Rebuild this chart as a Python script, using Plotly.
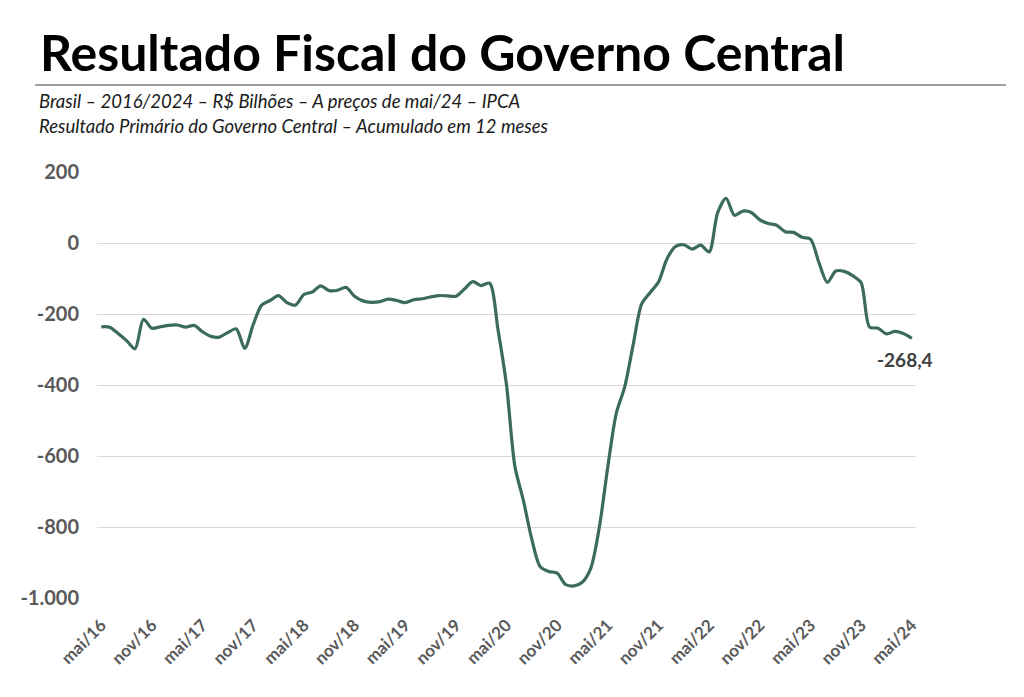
import plotly.graph_objects as go

# ---- data ----
month_index = list(range(97))  # mai/16 .. mai/24, monthly
values = [
    -236, -237, -255, -275, -298, -215, -240, -236, -232, -231,
    -237, -232, -250, -263, -265, -252, -242, -297, -230, -175,
    -162, -148, -168, -175, -145, -138, -121, -134, -133, -125,
    -150, -163, -167, -165, -158, -162, -168, -160, -157, -152,
    -148, -149, -150, -130, -109, -120, -113, -245, -400, -630,
    -725, -835, -912, -925, -930, -962, -966, -955, -915, -800,
    -630, -480, -405, -287, -172, -140, -110, -45, -10, -5,
    -17, -6, -25, 85, 126, 78, 90, 86, 65, 55,
    50, 32, 30, 16, 11, -55, -111, -79, -80, -92,
    -112, -237, -240, -256, -249, -255, -268.4,
]
tick_positions = [0, 6, 12, 18, 24, 30, 36, 42, 48, 54, 60, 66, 72, 78, 84, 90, 96]
tick_labels = ["mai/16", "nov/16", "mai/17", "nov/17", "mai/18", "nov/18", "mai/19",
               "nov/19", "mai/20", "nov/20", "mai/21", "nov/21", "mai/22", "nov/22",
               "mai/23", "nov/23", "mai/24"]
y_ticks = [200, 0, -200, -400, -600, -800, -1000]
y_tick_labels = ["200", "0", "-200", "-400", "-600", "-800", "-1.000"]

title = "Resultado Fiscal do Governo Central"
subtitle1 = "Brasil – 2016/2024 – R$ Bilhões – A preços de mai/24 – IPCA"
subtitle2 = "Resultado Primário do Governo Central – Acumulado em 12 meses"

# ---- layout geometry (pixels, in screenshot coordinates) ----
W, H = 1024, 697
OFF = 8  # page body margin
L, R, T, B = 97 - OFF, 916 - OFF, 172 - OFF, 598 - OFF
def px_x(p):
    return (p - OFF - L) / (R - L)
def px_y(p):
    return (B - (p - OFF)) / (B - T)

FONT = "Lato"
GRAY = "#595959"
LINE = "#3B6A5E"

fig = go.Figure()
fig.add_trace(go.Scatter(
    x=month_index, y=values, mode="lines",
    line=dict(color=LINE, width=3.2, shape="spline", smoothing=0.8),
    hoverinfo="skip", showlegend=False,
))

ymin, ymax = -1000, 200
fig.update_layout(
    width=W, height=H,
    margin=dict(l=L, r=W - R, t=T, b=H - B, pad=0),
    paper_bgcolor="white", plot_bgcolor="white",
    font=dict(family=FONT, color=GRAY),
    showlegend=False,
    xaxis=dict(
        range=[-0.5, 96.5], tickvals=tick_positions, ticktext=tick_labels,
        tickangle=-45, showgrid=False, zeroline=False, showline=False,
        ticks="", ticklabelstandoff=13,
        tickfont=dict(family=FONT, size=17, color=GRAY, weight="bold"),
    ),
    xaxis2=dict(
        overlaying="x", matches="x", anchor="free",
        position=(0 - ymin) / (ymax - ymin), side="bottom",
        tickvals=[p - 0.5 for p in tick_positions], showticklabels=False,
        ticks="outside", ticklen=5, tickwidth=1, tickcolor="#D9D9D9",
        showgrid=False, zeroline=False, showline=False,
    ),
    yaxis=dict(
        range=[ymin, ymax], tickvals=y_ticks, ticktext=y_tick_labels,
        showgrid=True, gridcolor="#D9D9D9", gridwidth=1,
        zeroline=False, showline=False, ticks="", ticklabelstandoff=17,
        tickfont=dict(family=FONT, size=20, color=GRAY, weight="bold"),
    ),
)

fig.add_annotation(
    x=month_index[-1], y=values[-1], xref="x", yref="y",
    text=f"{values[-1]:.1f}".replace(".", ","), showarrow=False,
    xshift=-7, yshift=-21,
    font=dict(family=FONT, size=19, color="#404040", weight="bold"),
)

fig.add_annotation(
    x=px_x(38), y=px_y(52), xref="paper", yref="paper",
    xanchor="left", yanchor="middle", showarrow=False, text=title,
    font=dict(family=FONT, size=50, color="black", weight="bold"),
)
fig.add_shape(
    type="line", xref="paper", yref="paper",
    x0=px_x(35), x1=px_x(1006), y0=px_y(85), y1=px_y(85),
    line=dict(color="#7F7F7F", width=1.5),
)
fig.add_annotation(
    x=px_x(37), y=px_y(101), xref="paper", yref="paper",
    xanchor="left", yanchor="middle", showarrow=False, text=subtitle1,
    font=dict(family=FONT, size=18.5, color="#1A1A1A", style="italic"),
)
fig.add_annotation(
    x=px_x(37), y=px_y(126), xref="paper", yref="paper",
    xanchor="left", yanchor="middle", showarrow=False, text=subtitle2,
    font=dict(family=FONT, size=18.5, color="#1A1A1A", style="italic"),
)

fig.write_html("out.html")
